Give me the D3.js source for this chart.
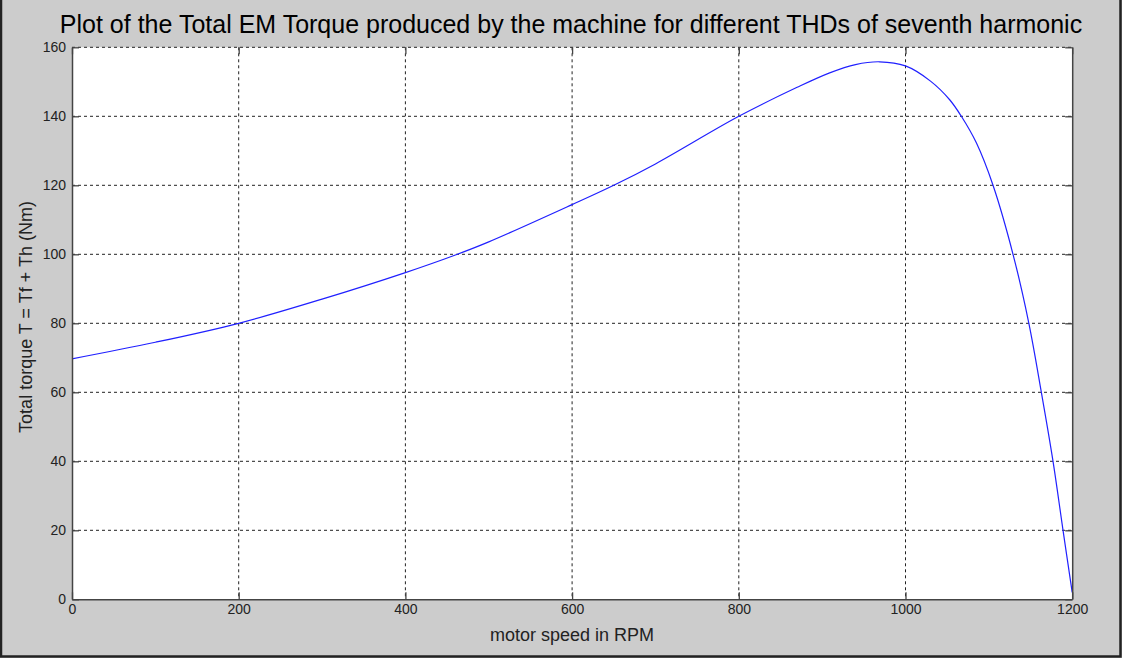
<!DOCTYPE html>
<html>
<head>
<meta charset="utf-8">
<script src="https://cdn.jsdelivr.net/npm/d3@7"></script>
<style>
  body { margin: 0; background: #cccccc; }
  svg { display: block; font-family: "Liberation Sans", Arial, sans-serif; }
</style>
</head>
<body>
<div id="chart"></div>
<script>
// values
var speed  = [0, 100, 200, 300, 400, 460, 500, 600, 650, 700, 800, 870, 909, 940, 969, 1000, 1030, 1053, 1067, 1085, 1105, 1129, 1148, 1163, 1177, 1189, 1200]
var torque = [69.7, 74.5, 80, 87, 94.7, 99.8, 103.6, 114.4, 120, 126.2, 140, 148.4, 152.6, 155.0, 155.8, 154.6, 150.2, 144.8, 140, 132.3, 120, 100, 80, 60, 40, 20, 2]
var xTicks = [0, 200, 400, 600, 800, 1000, 1200]
var yTicks = [0, 20, 40, 60, 80, 100, 120, 140, 160]

var titleText = "Plot of the Total EM Torque produced by the machine for different THDs of seventh harmonic"
var xLabel = "motor speed in RPM"
var yLabel = "Total torque T = Tf + Th (Nm)"

var W = 1122, H = 658
var margin = {top: 47.3, right: 49.8, bottom: 58.7, left: 72},
    width = W - margin.left - margin.right,
    height = H - margin.top - margin.bottom;

var data = speed.map(function (s, i) { return {speed: s, torque: torque[i]} })

var svg = d3.select("#chart").append("svg")
    .attr("width", W)
    .attr("height", H)

svg.append("rect").attr("width", W).attr("height", H).attr("fill", "#cccccc")
// outer dark frame (left, right, bottom)
svg.append("path")
    .attr("d", "M1,0 V656.5 H1120.5 V0")
    .attr("fill", "none").attr("stroke", "#222").attr("stroke-width", 2.5)

var g = svg.append("g")
    .attr("transform", "translate(" + margin.left + "," + margin.top + ")")

var x = d3.scaleLinear().domain([0, 1200]).range([0, width])
var y = d3.scaleLinear().domain([0, 160]).range([height, 0])

g.append("rect").attr("width", width).attr("height", height).attr("fill", "#fff")

// grid
g.selectAll(".vgrid").data(xTicks.slice(1, -1)).enter().append("line")
    .attr("x1", function (d) { return x(d) }).attr("x2", function (d) { return x(d) })
    .attr("y1", 0).attr("y2", height)
    .attr("stroke", "#222").attr("stroke-dasharray", "3,3")
g.selectAll(".hgrid").data(yTicks.slice(1, -1)).enter().append("line")
    .attr("y1", function (d) { return y(d) }).attr("y2", function (d) { return y(d) })
    .attr("x1", 0).attr("x2", width)
    .attr("stroke", "#222").attr("stroke-dasharray", "3,3")
// top edge is a grid line too (160)
g.append("line").attr("x1", 0).attr("x2", width).attr("y1", 0).attr("y2", 0)
    .attr("stroke", "#222").attr("stroke-dasharray", "3,3")

// the curve
var valueline = d3.line()
    .x(function (d) { return x(d.speed) })
    .y(function (d) { return y(d.torque) })
    .curve(d3.curveCatmullRom.alpha(0.5))

g.append("path")
    .datum(data)
    .attr("d", valueline)
    .attr("fill", "none")
    .attr("stroke", "#2020ff")
    .attr("stroke-width", 1.2)

// axes: left / bottom with labels, right / top as box with inward ticks
var tickLen = 7
var axisColor = "#444"

var xAxis = g.append("g")
    .attr("transform", "translate(0," + height + ")")
    .call(d3.axisBottom(x).tickValues(xTicks).tickSize(-tickLen).tickPadding(5).tickSizeOuter(0).tickFormat(d3.format("d")))
var yAxis = g.append("g")
    .call(d3.axisLeft(y).tickValues(yTicks).tickSize(-tickLen).tickPadding(6).tickSizeOuter(0).tickFormat(d3.format("d")))
g.append("g")
    .attr("transform", "translate(" + width + ",0)")
    .call(d3.axisRight(y).tickValues(yTicks).tickSize(-tickLen).tickFormat("").tickSizeOuter(0))
g.append("g")
    .call(d3.axisTop(x).tickValues(xTicks).tickSize(-tickLen).tickFormat("").tickSizeOuter(0))
    .select(".domain").remove()

g.selectAll(".domain").attr("stroke", axisColor).attr("stroke-width", 1.5)
g.selectAll(".tick line").attr("stroke", axisColor).attr("stroke-width", 1.3)
g.selectAll(".tick text")
    .attr("fill", "#222")
    .style("font-size", "14px")
    .style("font-family", "'Liberation Sans', Arial, sans-serif")
yAxis.selectAll(".tick text").attr("dy", "0.33em")
xAxis.selectAll(".tick text").attr("dy", "0.71em")

// title and axis labels
svg.append("text")
    .attr("x", 571).attr("y", 33)
    .attr("text-anchor", "middle")
    .style("font-size", "25px")
    .attr("fill", "#000")
    .text(titleText)

svg.append("text")
    .attr("x", 572).attr("y", 641)
    .attr("text-anchor", "middle")
    .style("font-size", "18px")
    .attr("fill", "#222")
    .text(xLabel)

svg.append("text")
    .attr("transform", "translate(32,317) rotate(-90)")
    .attr("text-anchor", "middle")
    .style("font-size", "18px")
    .attr("fill", "#222")
    .text(yLabel)
</script>
</body>
</html>
